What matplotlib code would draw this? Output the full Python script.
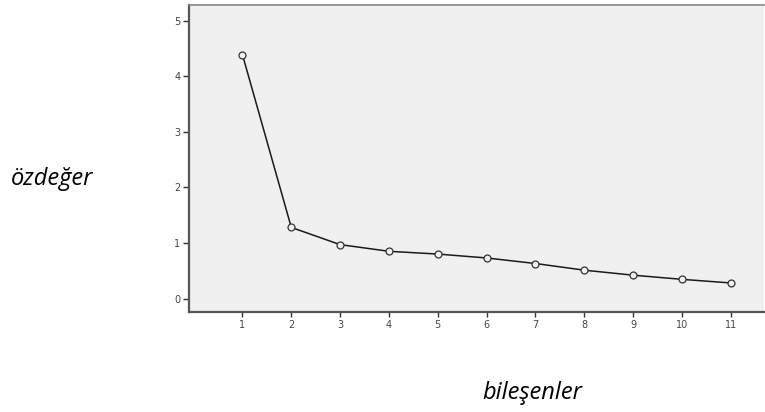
import matplotlib
matplotlib.use("Agg")
import matplotlib.pyplot as plt

components = [1, 2, 3, 4, 5, 6, 7, 8, 9, 10, 11]
eigenvalues = [4.39, 1.28, 0.97, 0.85, 0.80, 0.73, 0.63, 0.51, 0.42, 0.345, 0.28]
y_ticks = [0, 1, 2, 3, 4, 5]

fig = plt.figure(figsize=(7.65, 4.12), dpi=100)
ax = fig.add_axes([0.2467, 0.2427, 0.752, 0.746])
ax.set_facecolor('#f0f0f0')

ax.plot(components, eigenvalues, color='#1a1a1a', lw=1.1, marker='o',
        markersize=5, markerfacecolor='#f0f0f0', markeredgecolor='#333333',
        markeredgewidth=0.9)

ax.set_xlim(-0.1, 11.68)
ax.set_ylim(-0.243, 5.29)
ax.set_xticks(components)
ax.set_yticks(y_ticks)
ax.tick_params(axis='both', labelsize=7, labelcolor='#444444', color='#333333',
               length=4, width=1, direction='out', pad=2)
ax.tick_params(axis='x', length=3.5)

for side in ['left', 'bottom']:
    ax.spines[side].set_color('#555555')
    ax.spines[side].set_linewidth(1.6)
ax.spines['top'].set_color('#888888')
ax.spines['top'].set_linewidth(1.2)
ax.spines['right'].set_visible(False)

lab = dict(fontsize=17, fontstyle='italic', family=['Open Sans', 'DejaVu Sans'])
fig.text(52 / 765, 1 - 179 / 412, 'özdeğer', ha='center', va='center', **lab)
fig.text(532 / 765, 1 - 393 / 412, 'bileşenler', ha='center', va='center', **lab)

fig.savefig('out.png', dpi=100)
